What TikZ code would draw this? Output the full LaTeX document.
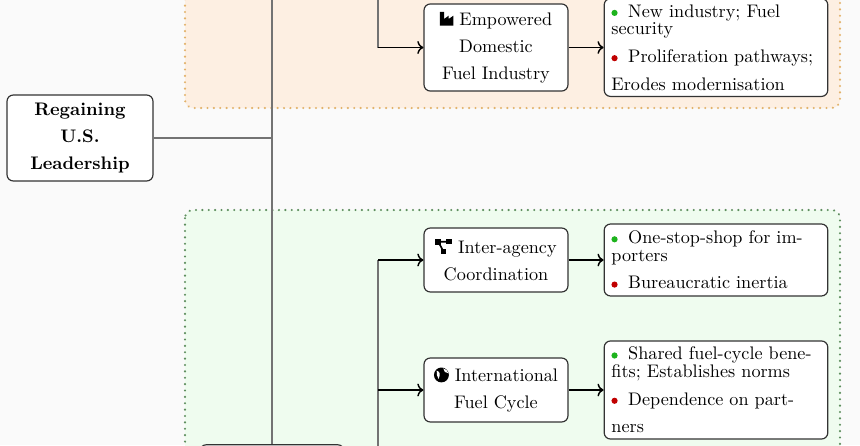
\documentclass[tikz,border=0pt]{standalone}
\usepackage{xcolor}
\usetikzlibrary{positioning, arrows.meta}

\definecolor{pagebg}{HTML}{FAFAFA}
\definecolor{nearfill}{HTML}{FDEFE2}
\definecolor{neardraw}{HTML}{E2B26A}
\definecolor{farfill}{HTML}{EFFCEF}
\definecolor{fardraw}{HTML}{5E8E5E}
\definecolor{prodot}{HTML}{1DB31D}
\definecolor{condot}{HTML}{C00000}

\newcommand{\plusdot}{\tikz[baseline=0pt]\fill[prodot] (0,2.4pt) circle (1.7pt);\hspace{2.5pt}}
\newcommand{\minusdot}{\tikz[baseline=0pt]\fill[condot] (0,2.4pt) circle (1.7pt);\hspace{2.5pt}}
% small icons
\newcommand{\iconfactory}{\tikz[x=1pt, y=1pt, baseline=0pt, sharp corners]
  \fill (0,0) -- (0,7.5) -- (2.3,7.5) -- (2.3,3.6) -- (4.8,5.4) -- (4.8,3.6)
  -- (7.4,5.4) -- (7.4,0) -- cycle;}
\newcommand{\icondiagram}{\tikz[x=1pt, y=1pt, baseline=0pt, sharp corners]{
  \fill (0,5) rectangle (3.2,8.2); \fill (6,5.3) rectangle (9.2,8.2);
  \fill (3,-0.2) rectangle (6,2.8);
  \draw[line width=0.9pt] (1.6,6.6) -- (7.6,6.6) (1.6,6.6) -- (4.5,1.3);}}
\newcommand{\iconglobe}{\tikz[x=1pt, y=1pt, baseline=0pt, sharp corners]{
  \fill (4,3.8) circle (4.1);
  \fill[white] (1.4,6.2) .. controls (3.2,5.8) and (3.6,4) .. (2.4,1.6)
  .. controls (1.8,3) and (1,4.6) .. cycle;
  \fill[white] (5,7.4) .. controls (5.2,5.8) and (6.4,4.6) .. (7.8,4.8)
  .. controls (7.4,6.2) and (6.4,7.2) .. cycle;}}

\begin{document}
\begin{tikzpicture}[x=0.55pt, y=-0.55pt]
        % Styles
        \tikzstyle{stage} = [rectangle, rounded corners=3.5pt, draw=black!80,
        line width=0.65pt, fill=white, align=center]
        \tikzstyle{root} = [stage, minimum width=80.3pt, minimum height=47.3pt, font=\bfseries]
        \tikzstyle{action} = [stage, minimum width=79.2pt]
        \tikzstyle{impact} = [stage, align=left, text width=115pt, inner xsep=4pt]
        \tikzstyle{link} = [->, thick, black]
        \tikzstyle{trunk} = [black!55, line width=0.7pt]
        \tikzstyle{band} = [rounded corners=4.5pt, line width=1.3pt,
        dash pattern=on 0.01pt off 3.5pt, line cap=round]

        \useasboundingbox (0,0) rectangle (860,445);
        \fill[pagebg] (0,0) rectangle (860,445);
        \clip (0,0) rectangle (860,445);

        % Bands
        \draw[band, fill=nearfill, draw=neardraw] (185,-60) rectangle (840,108);
        \draw[band, fill=farfill, draw=fardraw] (185,210) rectangle (840,540);

        % Nodes
        \node (lead) [root] at (80,138) {Regaining\\[3pt] U.S.\\[3pt] Leadership};
        \coordinate (upper) at (272,-40);
        \node (lower) [action, minimum height=30pt] at (272,472) {};

        \node (domestic) [action, minimum height=47.9pt] at (496,47.5)
        {\iconfactory\ Empowered\\[2.8pt] Domestic\\[2.8pt] Fuel Industry};
        \node (domImpact) [impact, minimum height=52.8pt, right=19.25pt of domestic]
        {\plusdot{} New industry; Fuel\\[-2.3pt] security\\[3.2pt]
        \minusdot{} Proliferation pathways;\\[3.2pt] Erodes modernisation};

        \node (agency) [action, minimum height=35.2pt] at (496,260)
        {\icondiagram\ Inter-agency\\[2.8pt] Coordination};
        \node (agencyImpact) [impact, minimum height=39.6pt, right=19.25pt of agency]
        {\plusdot{} One-stop-shop for im-\\[-2.3pt] porters\\[3.2pt]
        \minusdot{} Bureaucratic inertia};

        \node (intl) [action, minimum height=35.2pt] at (496,390)
        {\iconglobe\ International\\[2.8pt] Fuel Cycle};
        \node (intlImpact) [impact, minimum height=53.9pt, right=19.25pt of intl]
        {\plusdot{} Shared fuel-cycle bene-\\[-2.3pt] fits; Establishes norms\\[3.2pt]
        \minusdot{} Dependence on part-\\[3.2pt] ners};

        % Trunk
        \draw[trunk] (upper) -- (lower);
        \draw[trunk] (lead) -- (lead -| upper);

        % Branches
        \coordinate (nearfork) at (378,-40);
        \coordinate (farfork) at (378,472);
        \draw[trunk] (upper) -- (nearfork) -- (nearfork |- domestic);
        \draw[trunk] (lower) -- (farfork) -- (farfork |- agency);

        % Arrows
        \draw[link] (nearfork |- domestic) -- (domestic);
        \draw[link] (farfork |- agency) -- (agency);
        \draw[link] (farfork |- intl) -- (intl);
        \draw[link] (domestic) -- (domImpact);
        \draw[link] (agency) -- (agencyImpact);
        \draw[link] (intl) -- (intlImpact);
    \end{tikzpicture}
\end{document}
